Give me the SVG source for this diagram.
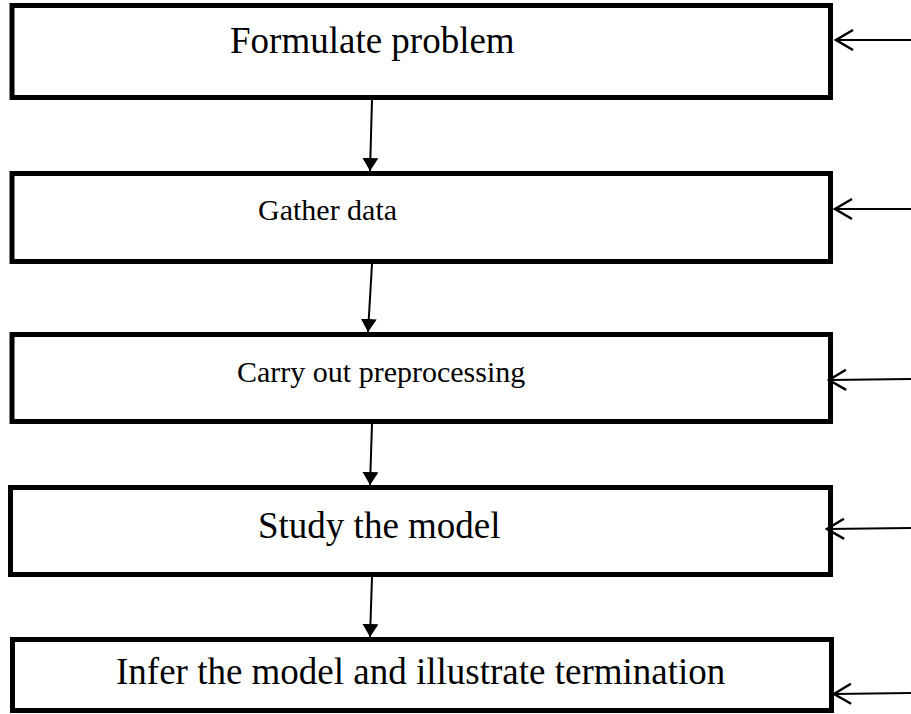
<svg xmlns="http://www.w3.org/2000/svg" width="911" height="714" viewBox="0 0 911 714">
<style>
.box{fill:#fff;stroke:#000;stroke-width:5}
.lbl{font-family:"Liberation Serif","Times New Roman",serif;font-size:37px;fill:#000}
.sm{font-size:30px}
.down{stroke:#000;stroke-width:2;fill:none}
.side{stroke:#000;stroke-width:2;fill:none}
</style>
<defs>
<marker id="tri" viewBox="0 0 13 16" refX="13" refY="8" markerWidth="13" markerHeight="16" markerUnits="userSpaceOnUse" orient="auto">
<path d="M0,0 L13,8 L0,16 z" fill="#000"/>
</marker>
<marker id="chev" viewBox="-2 -2 21 24" refX="17" refY="10" markerWidth="21" markerHeight="24" markerUnits="userSpaceOnUse" orient="auto">
<path d="M0,0 L17,10 L0,20" fill="none" stroke="#000" stroke-width="2.5"/>
</marker>
</defs>
<rect width="911" height="714" fill="#fff"/>
<g id="n1"><rect class="box" x="12" y="5.5" width="818.5" height="92"/><text class="lbl" x="230" y="53">Formulate problem</text></g>
<g id="n2"><rect class="box" x="12" y="173.5" width="818.5" height="88"/><text class="lbl sm" x="258" y="220">Gather data</text></g>
<g id="n3"><rect class="box" x="12" y="334.5" width="818.5" height="87"/><text class="lbl sm" x="237" y="382">Carry out preprocessing</text></g>
<g id="n4"><rect class="box" x="10.5" y="487.5" width="820" height="87"/><text class="lbl" x="258" y="538">Study the model</text></g>
<g id="n5"><rect class="box" x="12.5" y="639.5" width="819" height="71"/><text class="lbl" x="116" y="684">Infer the model and illustrate termination</text></g>
<g id="connectors">
<line class="down" x1="372" y1="100" x2="370" y2="171" marker-end="url(#tri)"/>
<line class="down" x1="372" y1="264" x2="368" y2="332" marker-end="url(#tri)"/>
<line class="down" x1="372" y1="424" x2="370" y2="485" marker-end="url(#tri)"/>
<line class="down" x1="372" y1="577" x2="370" y2="637" marker-end="url(#tri)"/>
<line class="side" x1="911" y1="40" x2="836" y2="40" marker-end="url(#chev)"/>
<line class="side" x1="911" y1="209" x2="835" y2="209" marker-end="url(#chev)"/>
<line class="side" x1="911" y1="379" x2="829" y2="380" marker-end="url(#chev)"/>
<line class="side" x1="911" y1="528" x2="827" y2="529" marker-end="url(#chev)"/>
<line class="side" x1="911" y1="693" x2="834" y2="694" marker-end="url(#chev)"/>
</g>
</svg>
